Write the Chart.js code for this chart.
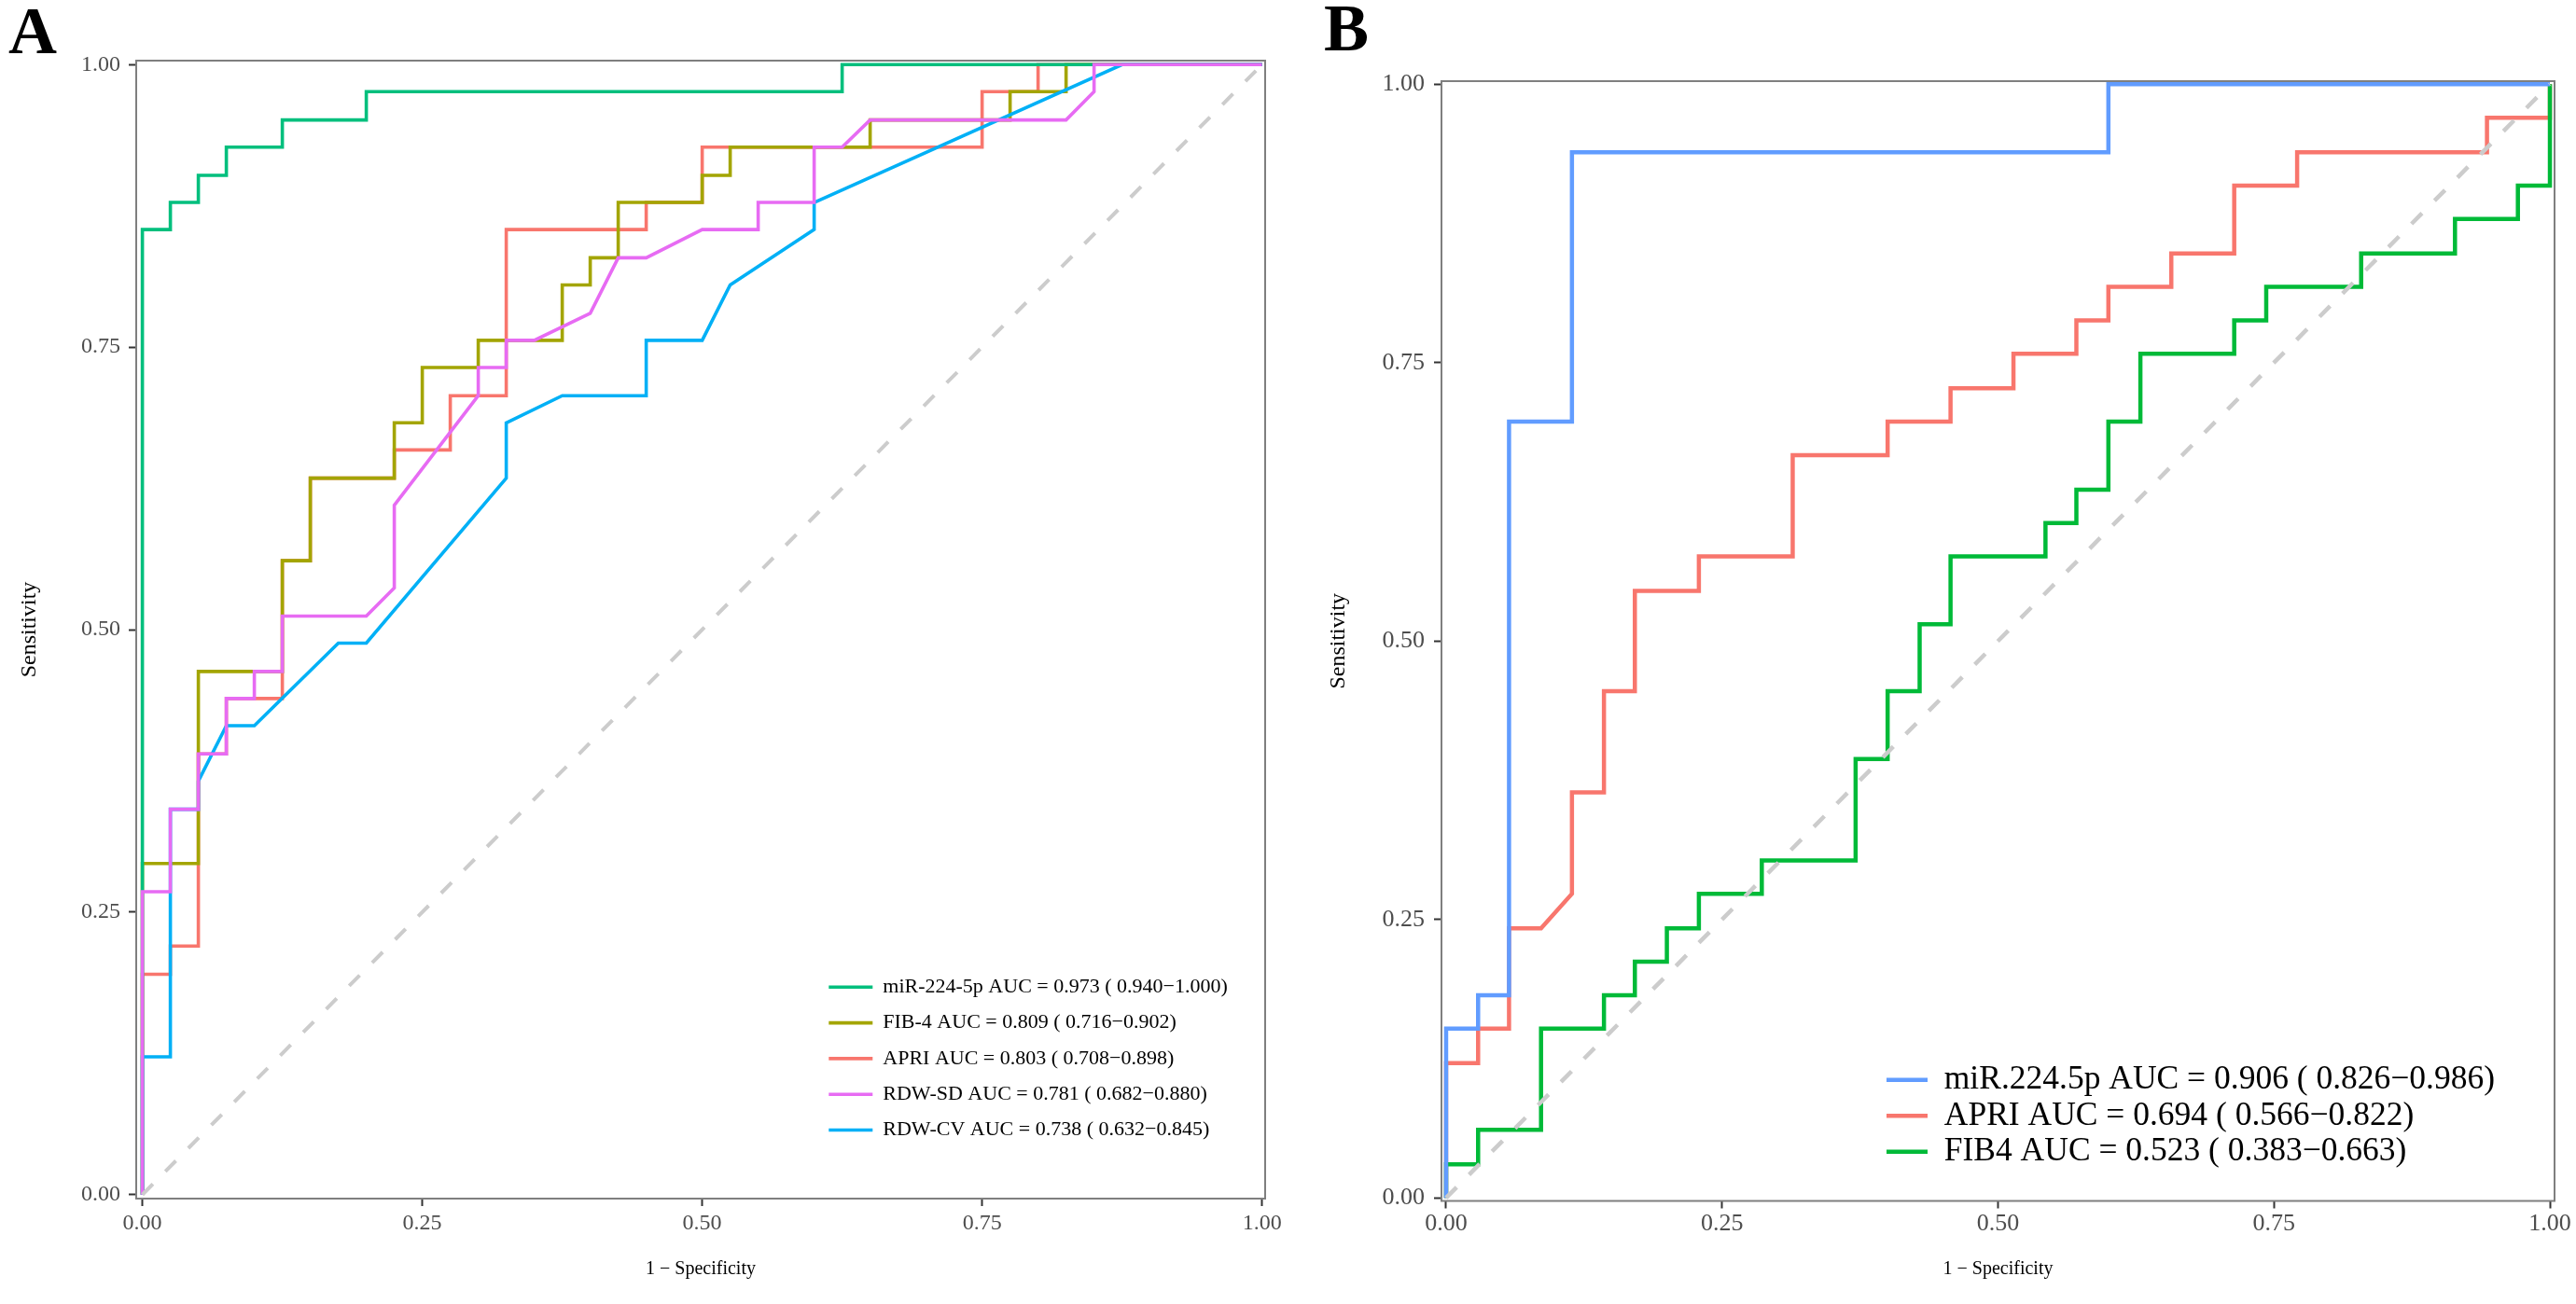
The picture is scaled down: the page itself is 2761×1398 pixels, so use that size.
<!DOCTYPE html>
<html>
<head>
<meta charset="utf-8">
<script src="https://cdn.jsdelivr.net/npm/chart.js@4.4.1/dist/chart.umd.min.js"></script>
<style>
  html, body { margin: 0; padding: 0; background: #fff; }
  #wrap { position: relative; width: 2761px; height: 1398px; overflow: hidden; background: #fff; }
  canvas { position: absolute; top: 0; }
  #cA { left: 0; }
  #cB { left: 1380px; }
  .tag { position: absolute; font-family: 'Liberation Serif', 'Times New Roman', serif; font-weight: bold; font-size: 72px; line-height: 1; color: #000; }
</style>
</head>
<body>
<div id="wrap">
  <canvas id="cA" width="1380" height="1398"></canvas>
  <canvas id="cB" width="1381" height="1398"></canvas>
  <div class="tag" style="left:9px; top:-3px;">A</div>
  <div class="tag" style="left:1419px; top:-6px;">B</div>
</div>
<script>
// axis ticks shared by both panels
const tickVals = [0, 0.25, 0.5, 0.75, 1];
const tickText = ['0.00', '0.25', '0.50', '0.75', '1.00'];
const diagX = [0, 1];
const diagY = [0, 1];

// ---- panel A (1 - specificity, sensitivity) ----
const fprA_mir = [0, 0, 0.025, 0.025, 0.05, 0.05, 0.075, 0.075, 0.125, 0.125, 0.2, 0.2, 0.625, 0.625, 1];
const tprA_mir = [0, 0.854, 0.854, 0.878, 0.878, 0.902, 0.902, 0.927, 0.927, 0.951, 0.951, 0.976, 0.976, 1, 1];

const fprA_fib4 = [0, 0, 0.05, 0.05, 0.125, 0.125, 0.15, 0.15, 0.225, 0.225, 0.25, 0.25, 0.3, 0.3, 0.375, 0.375,
  0.4, 0.4, 0.425, 0.425, 0.5, 0.5, 0.525, 0.525, 0.65, 0.65, 0.775, 0.775, 0.825, 0.825, 1];
const tprA_fib4 = [0, 0.293, 0.293, 0.463, 0.463, 0.561, 0.561, 0.634, 0.634, 0.683, 0.683, 0.732, 0.732, 0.756, 0.756, 0.805,
  0.805, 0.829, 0.829, 0.878, 0.878, 0.902, 0.902, 0.927, 0.927, 0.951, 0.951, 0.976, 0.976, 1, 1];

const fprA_apri = [0, 0, 0.025, 0.025, 0.05, 0.05, 0.075, 0.075, 0.125, 0.125, 0.15, 0.15, 0.225, 0.225,
  0.275, 0.275, 0.325, 0.325, 0.45, 0.45, 0.5, 0.5, 0.75, 0.75, 0.8, 0.8, 1];
const tprA_apri = [0, 0.195, 0.195, 0.220, 0.220, 0.390, 0.390, 0.439, 0.439, 0.561, 0.561, 0.634, 0.634, 0.659,
  0.659, 0.707, 0.707, 0.854, 0.854, 0.878, 0.878, 0.927, 0.927, 0.976, 0.976, 1, 1];

const fprA_rdwsd = [0, 0, 0.025, 0.025, 0.05, 0.05, 0.075, 0.075, 0.1, 0.1, 0.125, 0.125, 0.2, 0.225, 0.225, 0.3, 0.3,
  0.325, 0.325, 0.35, 0.4, 0.425, 0.45, 0.5, 0.55, 0.55, 0.6, 0.6, 0.625, 0.65, 0.825, 0.85, 0.85, 1];
const tprA_rdwsd = [0, 0.268, 0.268, 0.341, 0.341, 0.390, 0.390, 0.439, 0.439, 0.463, 0.463, 0.512, 0.512, 0.537, 0.610, 0.707, 0.732,
  0.732, 0.756, 0.756, 0.780, 0.829, 0.829, 0.854, 0.854, 0.878, 0.878, 0.927, 0.927, 0.951, 0.951, 0.976, 1, 1];

const fprA_rdwcv = [0, 0, 0.025, 0.025, 0.05, 0.05, 0.075, 0.1, 0.175, 0.2, 0.325, 0.325, 0.375, 0.45, 0.45, 0.5, 0.525,
  0.6, 0.6, 0.875, 1];
const tprA_rdwcv = [0, 0.122, 0.122, 0.341, 0.341, 0.366, 0.415, 0.415, 0.488, 0.488, 0.634, 0.683, 0.707, 0.707, 0.756, 0.756, 0.805,
  0.854, 0.878, 1, 1];

const namesA = ['miR-224-5p AUC = 0.973 ( 0.940\u22121.000)', 'FIB-4 AUC = 0.809 ( 0.716\u22120.902)',
  'APRI AUC = 0.803 ( 0.708\u22120.898)', 'RDW-SD AUC = 0.781 ( 0.682\u22120.880)', 'RDW-CV AUC = 0.738 ( 0.632\u22120.845)'];
const colorsA = ['#00BF7D', '#A3A500', '#F8766D', '#E76BF3', '#00B0F6'];

// ---- panel B ----
const fprB_mir = [0, 0, 0.029, 0.029, 0.057, 0.057, 0.114, 0.114, 0.6, 0.6, 1];
const tprB_mir = [0, 0.152, 0.152, 0.182, 0.182, 0.697, 0.697, 0.939, 0.939, 1, 1];

const fprB_apri = [0, 0, 0.029, 0.029, 0.057, 0.057, 0.086, 0.114, 0.114, 0.143, 0.143, 0.171, 0.171, 0.229, 0.229, 0.314,
  0.314, 0.4, 0.4, 0.457, 0.457, 0.514, 0.514, 0.571, 0.571, 0.6, 0.6, 0.657, 0.657, 0.714, 0.714, 0.771, 0.771, 0.943, 0.943, 1, 1];
const tprB_apri = [0, 0.121, 0.121, 0.152, 0.152, 0.242, 0.242, 0.273, 0.364, 0.364, 0.455, 0.455, 0.545, 0.545, 0.576, 0.576,
  0.667, 0.667, 0.697, 0.697, 0.727, 0.727, 0.758, 0.758, 0.788, 0.788, 0.818, 0.818, 0.848, 0.848, 0.909, 0.909, 0.939, 0.939, 0.970, 0.970, 1];

const fprB_fib4 = [0, 0, 0.029, 0.029, 0.086, 0.086, 0.143, 0.143, 0.171, 0.171, 0.2, 0.2, 0.229, 0.229, 0.286, 0.286,
  0.371, 0.371, 0.4, 0.4, 0.429, 0.429, 0.457, 0.457, 0.543, 0.543, 0.571, 0.571, 0.6, 0.6, 0.629, 0.629,
  0.714, 0.714, 0.743, 0.743, 0.829, 0.829, 0.914, 0.914, 0.971, 0.971, 1, 1];
const tprB_fib4 = [0, 0.030, 0.030, 0.061, 0.061, 0.152, 0.152, 0.182, 0.182, 0.212, 0.212, 0.242, 0.242, 0.273, 0.273, 0.303,
  0.303, 0.394, 0.394, 0.455, 0.455, 0.515, 0.515, 0.576, 0.576, 0.606, 0.606, 0.636, 0.636, 0.697, 0.697, 0.758,
  0.758, 0.788, 0.788, 0.818, 0.818, 0.848, 0.848, 0.879, 0.879, 0.909, 0.909, 1];

const namesB = ['miR.224.5p AUC = 0.906 ( 0.826\u22120.986)', 'APRI AUC = 0.694 ( 0.566\u22120.822)', 'FIB4 AUC = 0.523 ( 0.383\u22120.663)'];
const colorsB = ['#619CFF', '#F8766D', '#00BA38'];

Chart.defaults.font.family = "'Liberation Serif', 'Times New Roman', serif";
Chart.defaults.color = '#000';

function pts(xs, ys) {
    return xs.map(function (x, i) { return { x: x, y: ys[i] }; });
}

// move the chartArea legend to a fixed spot inside the panel
const legendAt = {
    id: 'legendAt',
    afterLayout(chart, args, o) {
        const lg = chart.legend;
        if (!lg) return;
        lg.left = o.x; lg.right = o.x + lg.width;
        lg.top = o.y; lg.bottom = o.y + lg.height;
    }
};

// panel border
const frame = {
    id: 'frame',
    afterDraw(chart) {
        const a = chart.chartArea, ctx = chart.ctx;
        ctx.save();
        ctx.strokeStyle = '#7F7F7F';
        ctx.lineWidth = 2;
        ctx.strokeRect(a.left, a.top, a.right - a.left, a.bottom - a.top);
        ctx.restore();
    }
};

function axis(o) {
    return {
        type: 'linear', min: o.min, max: o.max,
        afterBuildTicks: function (s) { s.ticks = tickVals.map(function (v) { return { value: v }; }); },
        afterFit: function (s) { if (s.isHorizontal()) s.height = o.size; else s.width = o.size; },
        grid: { display: true, drawOnChartArea: false, drawTicks: true, tickLength: 8, tickWidth: 2, tickColor: '#333333' },
        border: { display: false },
        ticks: {
            padding: o.tickPad, color: '#4D4D4D', font: { size: o.tickSize }, maxRotation: 0, autoSkip: false,
            callback: function (v, i) { return tickText[i]; }
        },
        title: { display: true, text: o.title, color: '#000', font: { size: o.titleSize }, padding: o.titlePad }
    };
}

function rocChart(id, o) {
    const datasets = o.series.map(function (s) {
        return {
            label: s.label, data: pts(s.x, s.y),
            borderColor: s.color, pointBorderColor: s.color, backgroundColor: s.color,
            borderWidth: o.lw, pointBorderWidth: o.lw, pointRadius: 0, pointHoverRadius: 0,
            showLine: true, fill: false, tension: 0, order: s.order
        };
    });
    datasets.push({
        label: 'ref', data: pts(diagX, diagY),
        borderColor: '#CCCCCC', borderWidth: o.dashW, borderDash: [16, 19],
        pointRadius: 0, showLine: true, fill: false, order: 0
    });
    return new Chart(document.getElementById(id), {
        type: 'scatter',
        data: { datasets: datasets },
        options: {
            responsive: false, animation: false, devicePixelRatio: 1,
            layout: { padding: o.pad },
            plugins: {
                legend: {
                    position: 'chartArea', align: 'start',
                    labels: {
                        usePointStyle: true, pointStyle: 'line', pointStyleWidth: o.keyW,
                        padding: o.legPad, color: '#000', font: { size: o.legSize },
                        filter: function (item) { return item.text !== 'ref'; },
                        sort: function (a, b) { return a.datasetIndex - b.datasetIndex; }
                    }
                },
                tooltip: { enabled: false },
                legendAt: { x: o.legX, y: o.legY }
            },
            scales: {
                x: axis({ min: o.xmin, max: o.xmax, size: o.xSize, tickPad: o.xTickPad, tickSize: o.tickSize,
                    title: '1 \u2212 Specificity', titleSize: 20, titlePad: { top: 0, bottom: 15 } }),
                y: axis({ min: o.ymin, max: o.ymax, size: o.ySize, tickPad: o.yTickPad, tickSize: o.tickSize,
                    title: 'Sensitivity', titleSize: 24, titlePad: { top: o.yTitlePad, bottom: 0 } })
            }
        },
        plugins: [legendAt, frame]
    });
}

rocChart('cA', {
    series: [
        { label: namesA[0], x: fprA_mir, y: tprA_mir, color: colorsA[0], order: 3 },
        { label: namesA[1], x: fprA_fib4, y: tprA_fib4, color: colorsA[1], order: 4 },
        { label: namesA[2], x: fprA_apri, y: tprA_apri, color: colorsA[2], order: 5 },
        { label: namesA[3], x: fprA_rdwsd, y: tprA_rdwsd, color: colorsA[3], order: 1 },
        { label: namesA[4], x: fprA_rdwcv, y: tprA_rdwcv, color: colorsA[4], order: 2 }
    ],
    lw: 3.6, dashW: 4,
    pad: { left: 10, top: 65, right: 24, bottom: 10 },
    xmin: -0.0055, xmax: 1.0028, ymin: -0.0035, ymax: 1.0035,
    xSize: 103, ySize: 136, tickSize: 24, xTickPad: 4, yTickPad: 9, yTitlePad: 7.6,
    keyW: 47, legPad: 16.3, legSize: 22, legX: 872, legY: 1031
});

rocChart('cB', {
    series: [
        { label: namesB[0], x: fprB_mir, y: tprB_mir, color: colorsB[0], order: 1 },
        { label: namesB[1], x: fprB_apri, y: tprB_apri, color: colorsB[1], order: 3 },
        { label: namesB[2], x: fprB_fib4, y: tprB_fib4, color: colorsB[2], order: 2 }
    ],
    lw: 4.5, dashW: 4.5,
    pad: { left: 10, top: 87, right: 23, bottom: 10 },
    xmin: -0.0042, xmax: 1.0042, ymin: -0.0028, ymax: 1.0028,
    xSize: 100.5, ySize: 155, tickSize: 26, xTickPad: 1, yTickPad: 10, yTitlePad: 30.6,
    keyW: 44, legPad: 3, legSize: 35.5, legX: 639, legY: 1137
});
</script>
</body>
</html>
